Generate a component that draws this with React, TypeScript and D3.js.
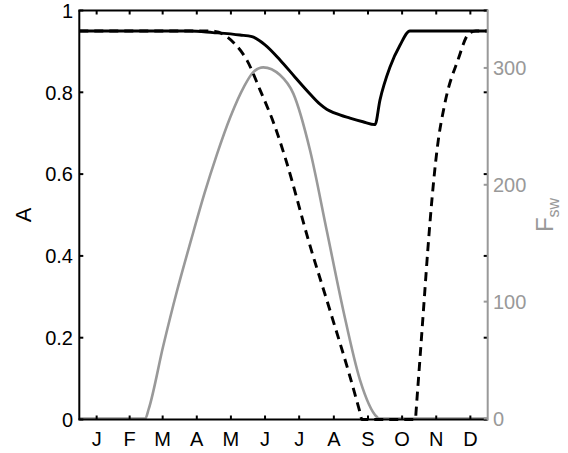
import React from "react";
import * as d3 from "d3";

// Month labels and their mid-month day-of-year positions
const monthLabels = ["J", "F", "M", "A", "M", "J", "J", "A", "S", "O", "N", "D"];
const monthMidDays = [15.5, 45, 74.5, 105, 135.5, 166, 196.5, 227.5, 258, 288.5, 319, 349.5];

// Left axis ticks (A) and right axis ticks (F_sw)
const aTicks = [0, 0.2, 0.4, 0.6, 0.8, 1];
const fTicks = [0, 100, 200, 300];

// Albedo A, solid curve: [day, A]
const albedoSolid: [number, number][] = [
  [0, 0.95], [98.9, 0.95], [119.5, 0.946], [143.6, 0.94], [154.3, 0.936],
  [166, 0.916], [179.4, 0.879], [192.8, 0.837], [206.2, 0.796], [215.1, 0.771],
  [221.4, 0.758], [228.5, 0.749], [241.9, 0.737], [253.5, 0.728], [264.3, 0.721],
  [268.7, 0.781], [277.7, 0.862], [286.6, 0.915], [295.5, 0.95], [365, 0.95],
];

// Albedo A, dashed curve: [day, A]
const albedoDashed: [number, number][] = [
  [0, 0.95], [112.3, 0.95], [121.2, 0.949], [130.3, 0.939], [139.2, 0.918],
  [149.9, 0.878], [161.5, 0.806], [174.9, 0.716], [183.8, 0.642], [206.2, 0.425],
  [224, 0.267], [241.9, 0.105], [250.8, 0.018], [252.6, 0], [300.5, 0],
  [300.9, 0.016], [304.5, 0.15], [308.1, 0.287], [311.6, 0.419], [315.2, 0.539],
  [319.7, 0.659], [326.8, 0.774], [338.4, 0.879], [348.3, 0.944], [354.5, 0.95],
  [365, 0.95],
];

// Shortwave flux F_sw: [day, W m^-2]
const shortwave: [number, number][] = [
  [0, 0], [59, 0], [62, 8], [75, 62], [87, 108], [100, 153], [112, 193],
  [123, 226], [135, 258], [147, 283.6], [155.5, 296.4], [164.4, 300.5],
  [179.4, 293.9], [191.3, 278], [206.2, 229.6], [221.1, 161.1], [235.9, 92.7],
  [250.9, 32.9], [265.8, 1.5], [267.8, 0], [365, 0],
];

const W = 568;
const H = 453;
const left = 79.3;
const right = 487.7;
const top = 10.5;
const bottom = 419.5;
const tickLen = 4;
const gray = "#999999";
const font = "'Liberation Sans', Arial, Helvetica, sans-serif";

export default function App() {
  const x = d3.scaleLinear().domain([0, 365]).range([left, right]);
  const yA = d3.scaleLinear().domain([0, 1]).range([bottom, top]);
  const yF = d3.scaleLinear().domain([0, 350]).range([bottom - 1, top - 1]);

  const lineA = d3
    .line<[number, number]>()
    .x((d) => x(d[0]))
    .y((d) => yA(d[1]))
    .curve(d3.curveMonotoneX);
  const lineF = d3
    .line<[number, number]>()
    .x((d) => x(d[0]))
    .y((d) => yF(d[1]))
    .curve(d3.curveMonotoneX);

  return (
    <svg
      width={W}
      height={H}
      style={{ position: "absolute", left: 0, top: 0, background: "#fff" }}
      fontFamily={font}
    >
      <rect x={0} y={0} width={W} height={H} fill="#fff" />

      {/* data */}
      <path d={lineF(shortwave) ?? ""} fill="none" stroke={gray} strokeWidth={2.6} />
      <path
        d={lineA(albedoDashed) ?? ""}
        fill="none"
        stroke="#000"
        strokeWidth={2.9}
        strokeDasharray="9,6"
      />
      <path d={lineA(albedoSolid) ?? ""} fill="none" stroke="#000" strokeWidth={2.9} />

      {/* box: left, bottom, top in black; right in gray */}
      <line x1={left} x2={left} y1={top} y2={bottom} stroke="#000" strokeWidth={2} />
      <line x1={left - 1} x2={right} y1={bottom} y2={bottom} stroke="#000" strokeWidth={2} />
      <line x1={left - 1} x2={right} y1={top} y2={top} stroke="#000" strokeWidth={2} />

      {/* x ticks (bottom and top, inward) */}
      {monthMidDays.map((d, i) => (
        <g key={"xt" + i}>
          <line x1={x(d)} x2={x(d)} y1={bottom} y2={bottom - tickLen} stroke="#000" strokeWidth={2} />
          <line x1={x(d)} x2={x(d)} y1={top} y2={top + tickLen} stroke="#000" strokeWidth={2} />
          <text x={x(d)} y={446} textAnchor="middle" fontSize={20} fill="#000">
            {monthLabels[i]}
          </text>
        </g>
      ))}

      {/* left axis ticks, mirrored on the right side */}
      {aTicks.map((t, i) => (
        <g key={"at" + i}>
          <line x1={left} x2={left + tickLen} y1={yA(t)} y2={yA(t)} stroke="#000" strokeWidth={2} />
          <line x1={right} x2={right - tickLen} y1={yA(t)} y2={yA(t)} stroke="#000" strokeWidth={2} />
          <text x={73} y={yA(t)} dy="0.36em" textAnchor="end" fontSize={20} fill="#000">
            {t === 0 || t === 1 ? String(t) : t.toFixed(1)}
          </text>
        </g>
      ))}

      {/* right axis */}
      <line x1={right} x2={right} y1={top - 1} y2={bottom + 1} stroke={gray} strokeWidth={2} />
      {fTicks.map((t, i) => (
        <g key={"ft" + i}>
          <line x1={right} x2={right - tickLen} y1={yF(t)} y2={yF(t)} stroke={gray} strokeWidth={2} />
          <text x={493} y={yF(t)} dy="0.36em" textAnchor="start" fontSize={20} fill={gray}>
            {t}
          </text>
        </g>
      ))}

      {/* axis titles */}
      <text
        transform={`translate(31,${(top + bottom) / 2}) rotate(-90)`}
        textAnchor="middle"
        fontSize={22}
        fill="#000"
      >
        A
      </text>
      <text
        transform={`translate(553,${(top + bottom) / 2}) rotate(-90)`}
        textAnchor="middle"
        fontSize={24}
        fill={gray}
      >
        F
        <tspan fontSize={16} dy={6}>
          sw
        </tspan>
      </text>
    </svg>
  );
}
